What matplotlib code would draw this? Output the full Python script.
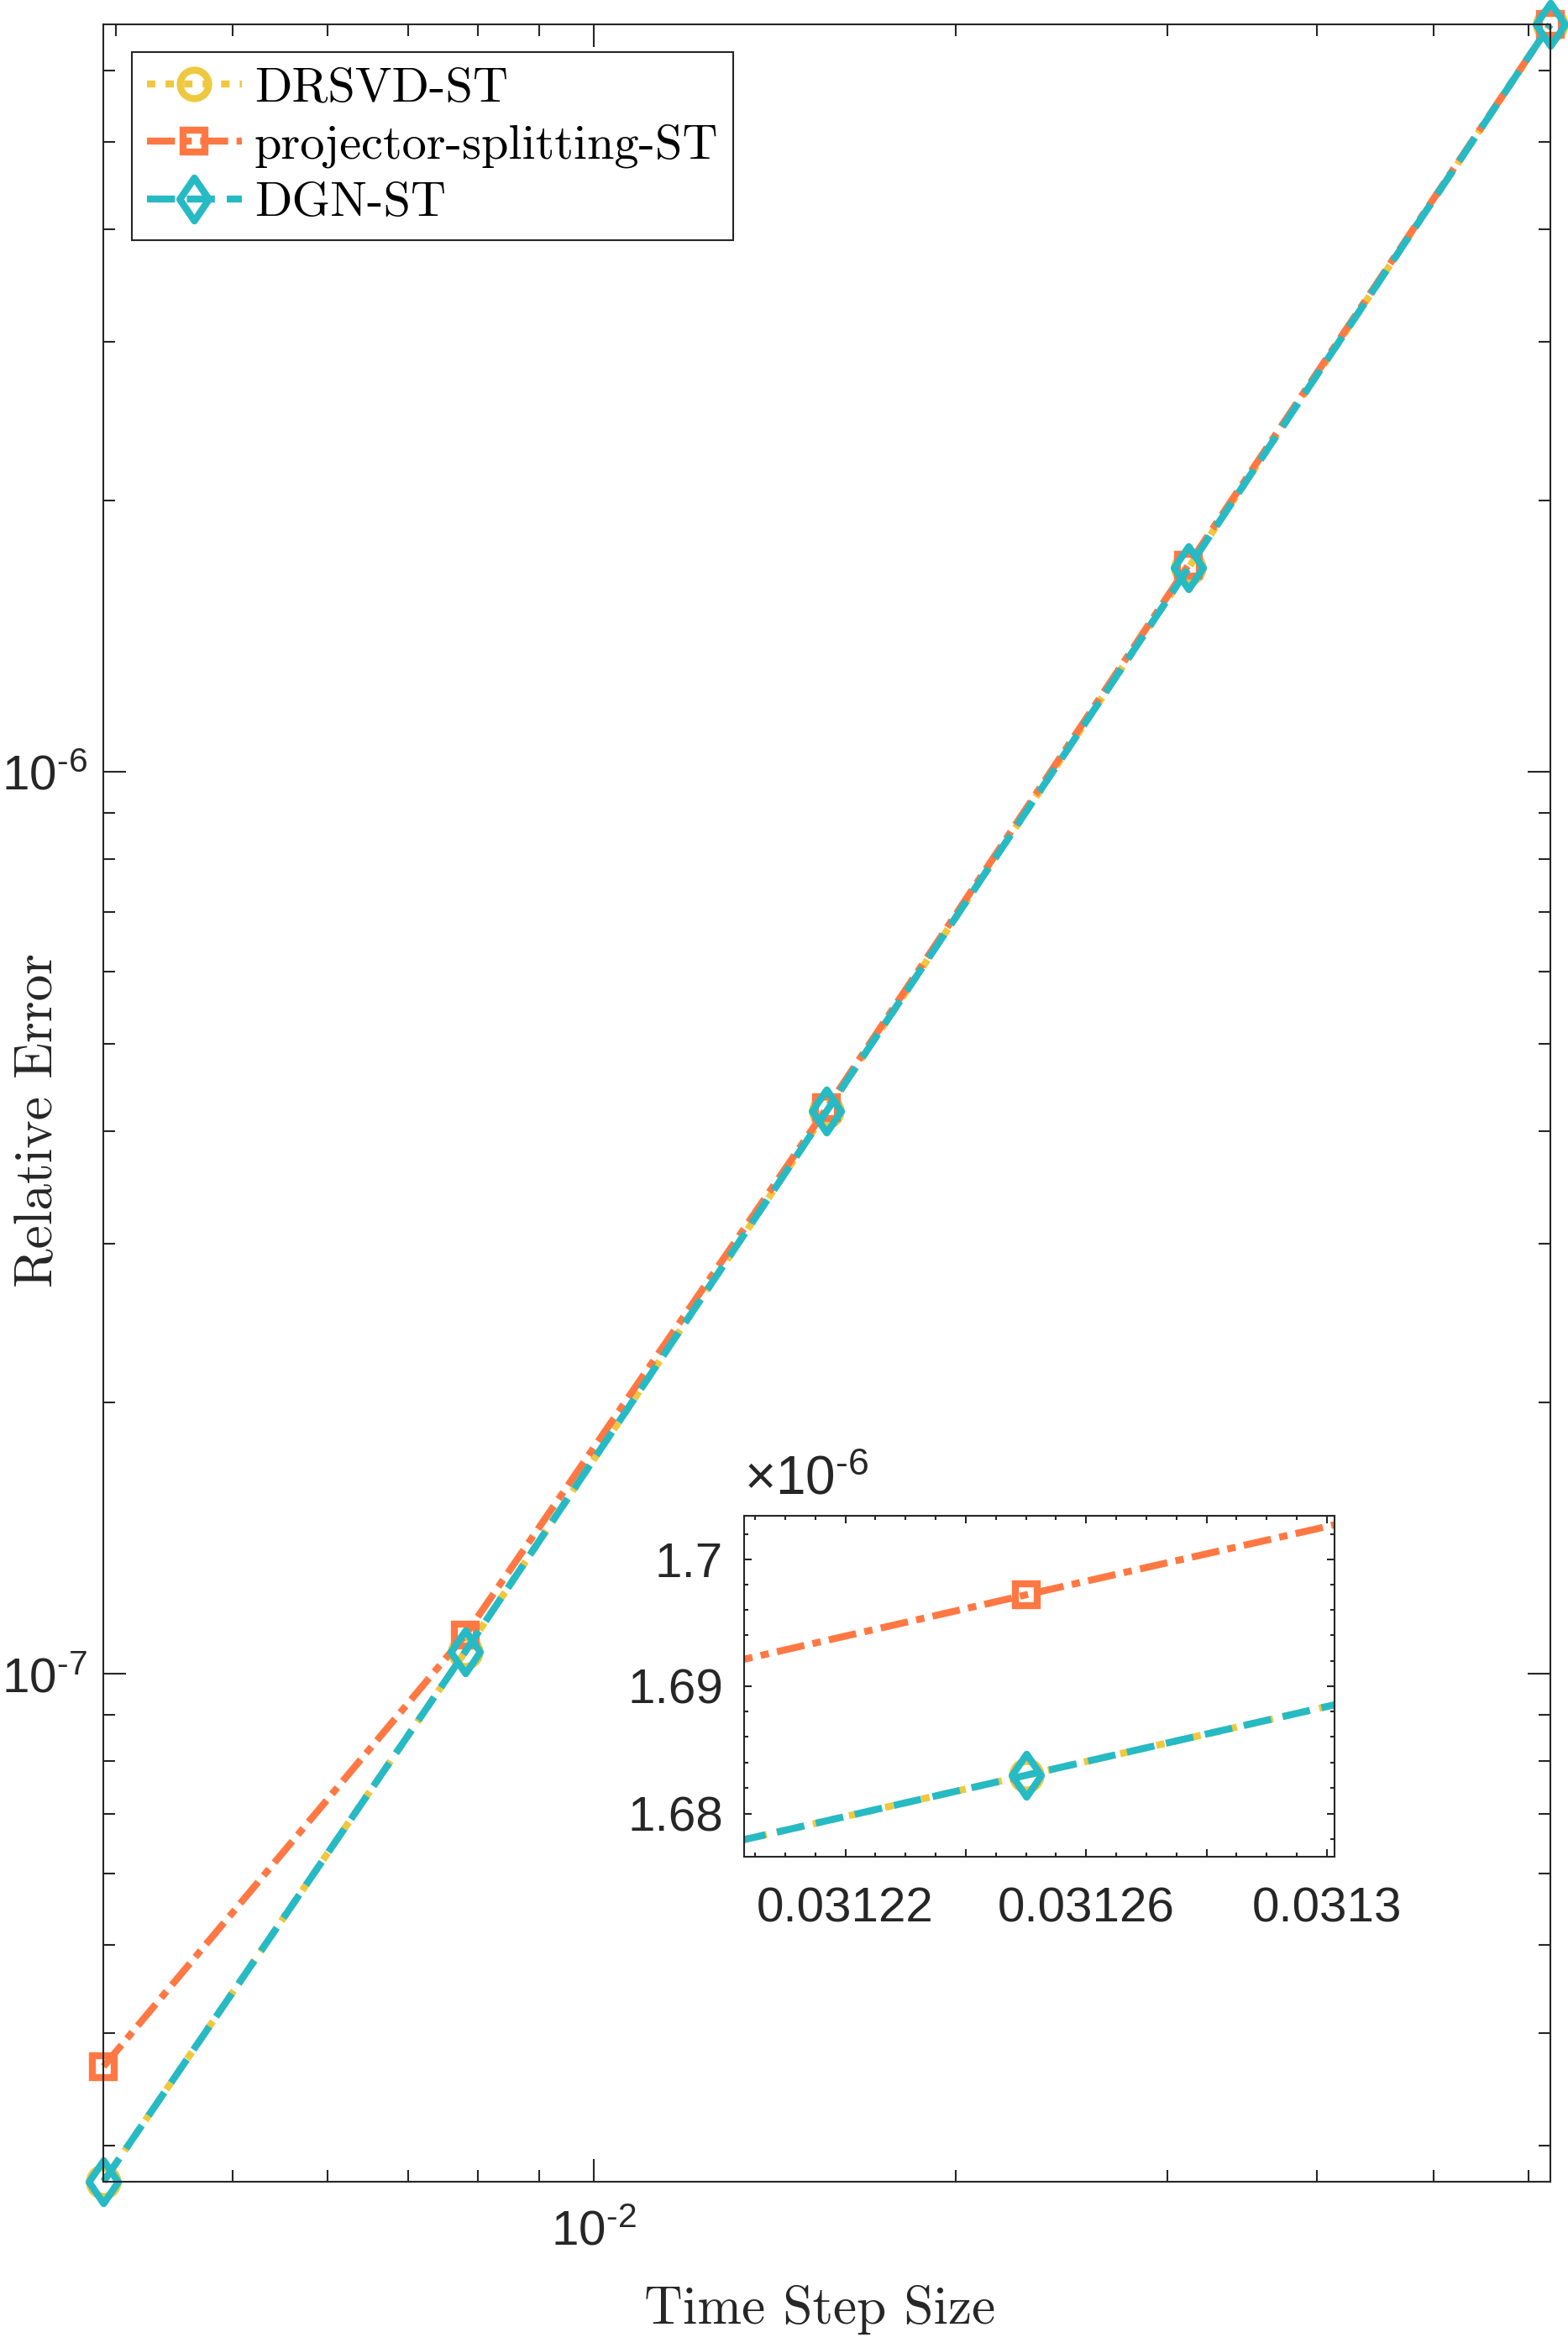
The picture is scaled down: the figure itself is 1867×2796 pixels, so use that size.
import numpy as np
import matplotlib
matplotlib.use("Agg")
import matplotlib.pyplot as plt
from matplotlib.path import Path
from matplotlib.ticker import FixedLocator, FixedFormatter, NullFormatter, FuncFormatter

plt.rcParams['mathtext.fontset'] = 'custom'
plt.rcParams['mathtext.rm'] = 'Liberation Sans'
plt.rcParams['mathtext.it'] = 'Liberation Sans:italic'
plt.rcParams['mathtext.bf'] = 'Liberation Sans:bold'
plt.rcParams['font.family'] = ['Liberation Sans', 'DejaVu Sans']

# data
dt = [1/256, 1/128, 1/64, 1/32, 1/16]
err_drsvd = [2.736e-8, 1.058e-7, 4.21e-7, 1.6830e-6, 6.74e-6]
err_proj = [3.67e-8, 1.104e-7, 4.24e-7, 1.6972e-6, 6.74e-6]
err_dgn = [2.736e-8, 1.058e-7, 4.21e-7, 1.6830e-6, 6.74e-6]
labels = ['DRSVD-ST', 'projector-splitting-ST', 'DGN-ST']

c_yel = '#EEC83E'
c_ora = '#FF7843'
c_cya = '#26BAC4'
axc = '#262626'

# diamond a bit narrower than tall, like matlab
diamond = Path([(0, 1), (0.68, 0), (0, -1), (-0.68, 0), (0, 1)],
               [Path.MOVETO, Path.LINETO, Path.LINETO, Path.LINETO, Path.CLOSEPOLY])

lw = 3.0
styles = [
    dict(color=c_yel, marker='o', ms=12.2, dashes=(1.2, 1.45)),
    dict(color=c_ora, marker='s', ms=9.2, dashes=(4.0, 1.2, 1.2, 1.2)),
    dict(color=c_cya, marker=diamond, ms=18.4, dashes=(4.0, 1.7)),
]
series = [err_drsvd, err_proj, err_dgn]


def dec_fmt(v, pos):
    e = int(round(np.log10(v)))
    return r'$10^{\text{-}%d}$' % (-e)


fig = plt.figure(figsize=(1867/200, 2796/200), dpi=200)
ax = fig.add_axes([0.06604, 0.07092, 0.92255, 0.91860])

for y, st, lab in zip(series, styles, labels):
    ax.loglog(dt, y, color=st['color'], lw=lw, dashes=st['dashes'],
              marker=st['marker'], ms=st['ms'], mfc='none', mew=lw,
              mec=st['color'], label=lab, clip_on=False)

ax.set_xlim(dt[0], dt[-1])
ax.set_ylim(min(err_dgn), max(err_dgn))
ax.xaxis.set_major_formatter(FuncFormatter(dec_fmt))
ax.yaxis.set_major_formatter(FuncFormatter(dec_fmt))
ax.yaxis.set_minor_formatter(NullFormatter())
ax.xaxis.set_minor_formatter(NullFormatter())
ax.tick_params(which='both', direction='in', top=True, right=True,
               colors=axc, labelsize=21, width=0.75)
ax.tick_params(which='major', length=9.6)
ax.tick_params(which='minor', length=5)
ax.tick_params(axis='x', pad=12)
ax.tick_params(axis='y', pad=7)
for s in ax.spines.values():
    s.set_color(axc)
    s.set_linewidth(0.75)

ax.set_xlabel('Time Step Size', family='cmr10', fontsize=22.8, color=axc)
ax.set_ylabel('Relative Error', family='cmr10', fontsize=22.8, color=axc)
ax.xaxis.set_label_coords(0.495, -0.048)
ax.yaxis.set_label_coords(-0.028, 0.492)

leg = ax.legend(loc='upper left', bbox_to_anchor=(0.0196, 0.9873), borderaxespad=0,
                prop={'family': 'cmr10', 'size': 21}, handlelength=1.95,
                handletextpad=0.25, labelspacing=0.28, borderpad=0.3,
                fancybox=False, framealpha=1)
leg.get_frame().set_edgecolor(axc)
leg.get_frame().set_linewidth(0.75)

# inset zoom near dt = 1/32
ins = fig.add_axes([0.47456, 0.20934, 0.37654, 0.14510])
for y, st in zip(series, styles):
    ins.loglog(dt, y, color=st['color'], lw=lw, dashes=st['dashes'],
               marker=st['marker'], ms=st['ms'], mfc='none', mew=lw,
               mec=st['color'])
ins.set_xlim(0.0312032, 0.0313013)
ins.set_ylim(1.67665e-6, 1.70346e-6)

xt = [0.03122, 0.03124, 0.03126, 0.03128, 0.0313]
ins.xaxis.set_major_locator(FixedLocator(xt))
ins.xaxis.set_major_formatter(FixedFormatter(['0.03122', '', '0.03126', '', '0.0313']))
ins.xaxis.set_minor_locator(FixedLocator(np.arange(0.031205, 0.0313011, 0.000005)))
ins.xaxis.set_minor_formatter(NullFormatter())
yt = [1.68e-6, 1.69e-6, 1.70e-6]
ins.yaxis.set_major_locator(FixedLocator(yt))
ins.yaxis.set_major_formatter(FixedFormatter(['1.68', '1.69', '1.7']))
ins.yaxis.set_minor_locator(FixedLocator(np.arange(1.678e-6, 1.7031e-6, 0.002e-6)))
ins.yaxis.set_minor_formatter(NullFormatter())
ins.tick_params(which='both', direction='in', top=True, right=True,
                colors=axc, labelsize=21, width=0.75)
ins.tick_params(which='major', length=3.2)
ins.tick_params(which='minor', length=1.7)
ins.tick_params(axis='x', pad=13)
ins.tick_params(axis='y', pad=9)
for s in ins.spines.values():
    s.set_color(axc)
    s.set_linewidth(0.75)
ins.text(0.0, 1.03, r'$\times10^{\text{-}6}$', transform=ins.transAxes, fontsize=23,
         color=axc, ha='left', va='bottom')

fig.savefig('out.png', dpi=200)
